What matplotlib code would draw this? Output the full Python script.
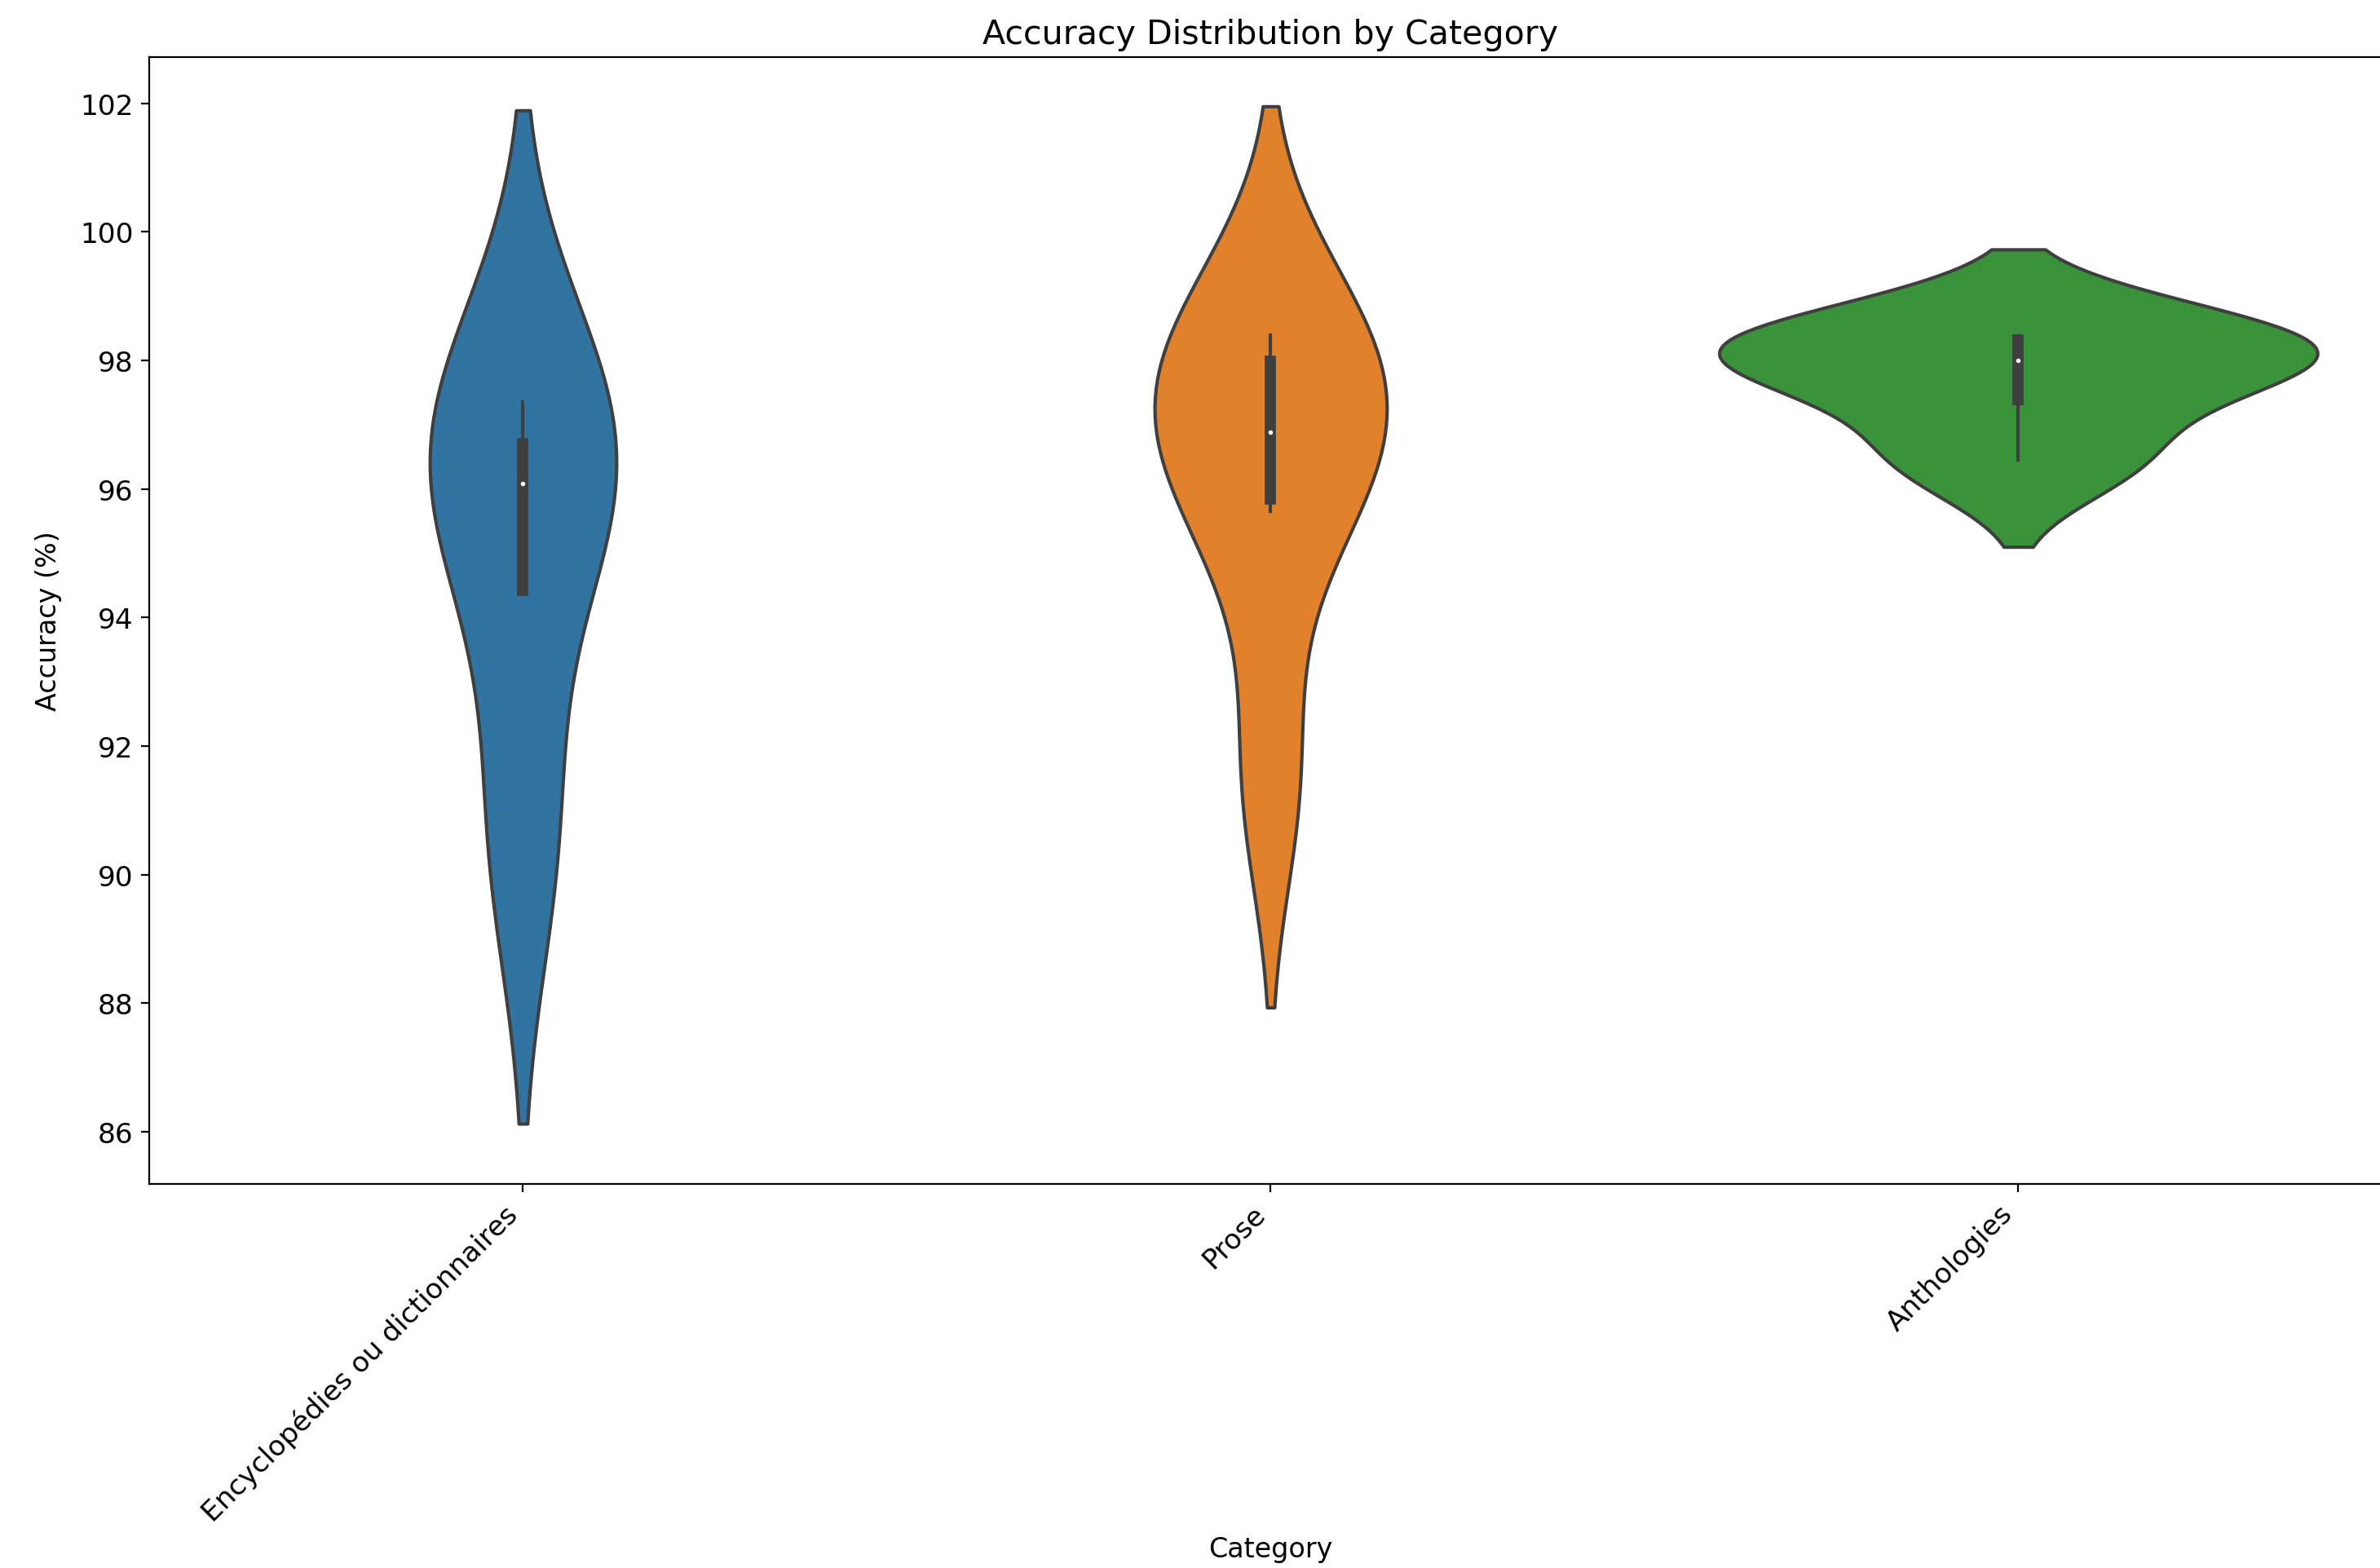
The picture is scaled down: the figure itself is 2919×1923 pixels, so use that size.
import numpy as np
import pandas as pd
import seaborn as sns
import matplotlib
matplotlib.use("Agg")
import matplotlib.pyplot as plt

# values
categories = ["Encyclopédies ou dictionnaires", "Prose", "Anthologies"]
ency_acc = [90.67, 95.67, 96.49, 97.35]
prose_acc = [91.5, 95.65, 96.45, 97.33, 98.2, 98.39]
antho_acc = [96.45, 97.70, 98.29, 98.38]

df = pd.DataFrame({
    "Category": [categories[0]] * len(ency_acc)
    + [categories[1]] * len(prose_acc)
    + [categories[2]] * len(antho_acc),
    "Accuracy": ency_acc + prose_acc + antho_acc,
})

gray = "#3f3f3f"
lw = 1.5

fig = plt.figure(figsize=(14.595, 9.62), dpi=200)
ax = fig.add_axes([0.0627, 0.2448, 0.9424, 0.7183])

sns.violinplot(data=df, x="Category", y="Accuracy", hue="Category",
               order=categories, hue_order=categories, legend=False,
               inner=None, linewidth=lw, linecolor=gray,
               density_norm="area", common_norm=True, ax=ax)

# box inside each violin, drawn like the classic seaborn look
for i, vals in enumerate([ency_acc, prose_acc, antho_acc]):
    vals = np.asarray(vals)
    q25, q50, q75 = np.percentile(vals, [25, 50, 75])
    iqr = q75 - q25
    lo = vals[vals >= q25 - 1.5 * iqr].min()
    hi = vals[vals <= q75 + 1.5 * iqr].max()
    ax.plot([i, i], [lo, hi], linewidth=lw, color=gray)
    ax.plot([i, i], [q25, q75], linewidth=lw * 3.3, color=gray)
    ax.scatter(i, q50, zorder=3, color="white", edgecolor=gray,
               s=np.square(lw * 2))

ax.set_xlim(-0.5, 2.5)
ax.set_ylim(85.19, 102.72)
ax.set_title("Accuracy Distribution by Category", fontsize=14.8)
ax.set_xlabel("Category", fontsize=12)
ax.set_ylabel("Accuracy (%)", fontsize=12, labelpad=8)
ax.tick_params(axis="both", labelsize=12.4)
plt.setp(ax.get_xticklabels(), rotation=45, ha="right")

fig.savefig("out.png", dpi=200)
